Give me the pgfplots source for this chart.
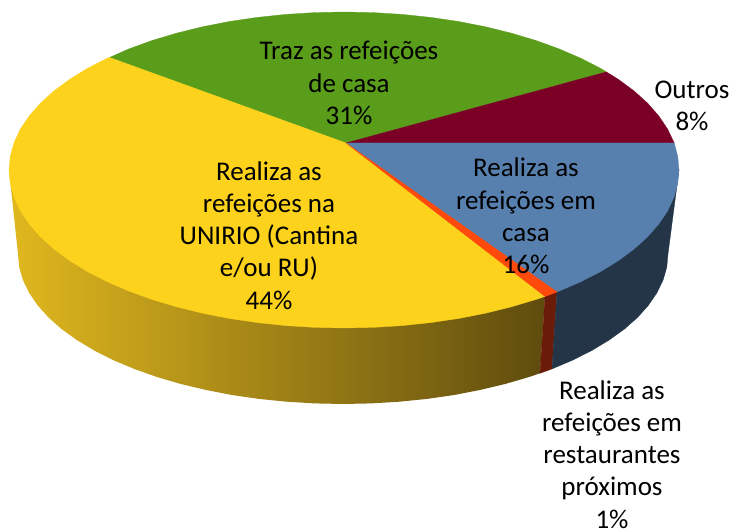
\documentclass[border=0pt]{standalone}
\usepackage{pgfplots}
\pgfplotsset{compat=1.18}
\usepackage{fontspec}
\setmainfont{Carlito}
\definecolor{cgreen}{RGB}{90,157,27}
\definecolor{cmaroon}{RGB}{122,0,37}
\definecolor{cblue}{RGB}{88,128,174}
\definecolor{corange}{RGB}{255,74,12}
\definecolor{cyellow}{RGB}{252,210,28}
\definecolor{wblue}{RGB}{36,53,72}
\definecolor{worange}{RGB}{107,28,8}
\definecolor{wyl}{RGB}{224,184,30}
\definecolor{wyr}{RGB}{95,76,14}
\begin{document}
\begin{tikzpicture}
\begin{axis}[
  hide axis, scale only axis, width=732pt, height=529pt,
  xmin=0, xmax=732, ymin=0, ymax=529, y dir=reverse,
  clip=false,
  every axis plot/.append style={line width=0.3pt},
  nodes={font=\fontsize{27}{32.2}\selectfont, align=center, text=black, inner sep=0pt, overlay}
]
\addplot[draw=none, fill=white] coordinates {(0,0)(732,0)(732,529)(0,529)} --cycle;
% side walls
\addplot[draw=none, left color=wyl, right color=wyr] coordinates {
(9,170)(18,254)(19.2,267.1)(22.9,280)(29.1,292.8)(37.6,305.3)(48.4,317.4)(61.5,329)(76.8,340)(94,350.4)(113.2,360.1)(134.1,368.9)(156.6,376.9)(180.5,383.9)(205.7,389.9)(231.8,395)(258.9,398.9)(286.6,401.7)(314.7,403.4)(343,404)(371.3,403.4)(399.4,401.7)(427.1,398.9)(454.2,395)(480.3,389.9)(505.5,383.9)(529.4,376.9)(540,373.3)(545,296.4)(344,170)} --cycle;
\addplot[draw=worange, fill=worange] coordinates {(545,296.4)(540,373.3)(552,368.9)(557,292)} --cycle;
\addplot[draw=wblue, fill=wblue] coordinates {
(557,292)(552,368.9)(572.8,360.1)(592,350.4)(609.2,340)(624.5,329)(637.6,317.4)(648.4,305.3)(656.9,292.8)(663.1,280)(666.8,267.1)(668,254)(679,170)(344,170)} --cycle;
% top: green 31%
\addplot[draw=cgreen, fill=cgreen] coordinates {
(346,143)(109.5,57.5)(128.7,49)(151.8,40.6)(176.5,33.2)(202.4,26.8)(229.4,21.5)(257.3,17.4)(285.8,14.4)(314.8,12.6)(344,12)(373.2,12.6)(402.2,14.4)(430.7,17.4)(458.6,21.5)(485.6,26.8)(511.5,33.2)(536.2,40.6)(559.3,49)(580.9,58.3)(600.6,68.4)(606.3,71.9)} --cycle;
% top: maroon 8%
\addplot[draw=cmaroon, fill=cmaroon] coordinates {
(346,143)(606.3,71.9)(618.4,79.4)(634.1,91)(647.6,103.2)(658.8,116)(667.6,129.1)(674.2,143)} --cycle;
% top: blue 16%
\addplot[draw=cblue, fill=cblue] coordinates {
(346,143)(674.2,143)(677.7,156.2)(679,170)(677.7,183.8)(673.9,197.4)(667.6,210.9)(658.8,224)(647.6,236.8)(634.1,249)(618.4,260.6)(600.6,271.6)(580.9,281.7)(559.3,291)(557,292)} --cycle;
% top: yellow 44%
\addplot[draw=cyellow, fill=cyellow] coordinates {
(346,143)(545,296.4)(536.2,299.4)(511.5,306.8)(485.6,313.2)(458.6,318.5)(430.7,322.6)(402.2,325.6)(373.2,327.4)(344,328)(314.8,327.4)(285.8,325.6)(257.3,322.6)(229.4,318.5)(202.4,313.2)(176.5,306.8)(151.8,299.4)(128.7,291)(107.1,281.7)(87.4,271.6)(69.6,260.6)(53.9,249)(40.4,236.8)(29.2,224)(20.4,210.9)(14.1,197.4)(10.3,183.8)(9,170)(10.3,156.2)(14.1,142.6)(20.4,129.1)(29.2,116)(40.4,103.2)(53.9,91)(69.6,79.4)(87.4,68.4)(107.1,58.3)(109.5,57.5)} --cycle;
% top: orange 1%
\addplot[draw=corange, fill=corange] coordinates {(346,143)(557,292)(545,296.4)} --cycle;
% labels
\node at (axis cs:349,83) {Traz as refeições\\de casa\\31\%};
\node at (axis cs:692,106) {Outros\\8\%};
\node at (axis cs:526,216) {Realiza as\\refeições em\\casa\\16\%};
\node at (axis cs:269,235.5) {Realiza as\\refeições na\\UNIRIO (Cantina\\e/ou RU)\\44\%};
\node at (axis cs:612,454.5) {Realiza as\\refeições em\\restaurantes\\próximos\\1\%};
\end{axis}
\end{tikzpicture}
\end{document}
